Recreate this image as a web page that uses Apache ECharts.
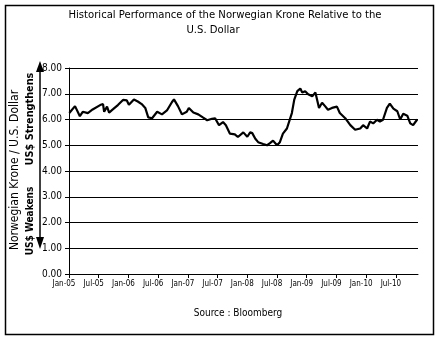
<!DOCTYPE html>
<html>
<head>
<meta charset="utf-8">
<script src="https://cdn.jsdelivr.net/npm/echarts@6/dist/echarts.min.js"></script>
<style>
  html, body { margin: 0; padding: 0; background: #fff; }
  #chart { width: 438px; height: 341px; }
</style>
</head>
<body>
<div id="chart"></div>
<script>
// NOK per USD, sampled roughly twice a month
const dates = [
  '2005-01-03','2005-02-07','2005-03-07','2005-03-25','2005-04-25','2005-05-25','2005-07-10','2005-07-28',
  '2005-08-04','2005-08-22','2005-09-04','2005-09-28','2005-10-28','2005-11-28','2005-12-22','2006-01-04',
  '2006-02-04','2006-02-26','2006-03-22','2006-04-13','2006-05-01','2006-05-25','2006-06-25','2006-07-25',
  '2006-08-25','2006-09-25','2006-10-07','2006-11-01','2006-11-25','2006-12-25','2007-01-07','2007-02-04',
  '2007-03-04','2007-04-04','2007-04-28','2007-05-28','2007-06-16','2007-07-10','2007-08-04','2007-08-22',
  '2007-09-16','2007-10-16','2007-11-04','2007-12-07','2007-12-19','2008-01-01','2008-01-19','2008-02-01',
  '2008-02-19','2008-03-07','2008-04-07','2008-05-01','2008-05-19','2008-06-07','2008-07-01','2008-07-19',
  '2008-08-07','2008-09-01','2008-09-13','2008-10-01','2008-10-16','2008-11-04','2008-11-22','2008-12-04',
  '2008-12-22','2009-01-10','2009-02-04','2009-02-22','2009-03-04','2009-03-16','2009-04-04','2009-04-22',
  '2009-05-10','2009-06-04','2009-07-04','2009-07-22','2009-08-25','2009-09-25','2009-10-25','2009-11-25',
  '2009-12-13','2010-01-07','2010-01-25','2010-02-13','2010-03-07','2010-03-25','2010-04-13','2010-05-07',
  '2010-05-25','2010-06-16','2010-07-10','2010-07-28','2010-08-16','2010-09-10','2010-09-28','2010-10-16',
  '2010-11-10'
];
const nokPerUsd = [
  6.25, 6.52, 6.13, 6.30, 6.25, 6.39, 6.56, 6.60,
  6.30, 6.50, 6.27, 6.40, 6.56, 6.76, 6.74, 6.57,
  6.78, 6.70, 6.60, 6.45, 6.08, 6.05, 6.30, 6.20,
  6.35, 6.68, 6.78, 6.52, 6.20, 6.30, 6.45, 6.27,
  6.20, 6.07, 5.97, 6.03, 6.05, 5.78, 5.90, 5.78,
  5.45, 5.42, 5.32, 5.50, 5.55, 5.33, 5.50, 5.47,
  5.25, 5.12, 5.05, 5.00, 5.08, 5.18, 5.00, 5.12,
  5.45, 5.65, 5.72, 6.25, 6.77, 7.10, 7.20, 7.05,
  7.10, 6.98, 6.90, 7.05, 7.00, 6.45, 6.65, 6.52,
  6.38, 6.45, 6.50, 6.25, 6.05, 5.78, 5.60, 5.65,
  5.78, 5.65, 5.92, 5.85, 5.99, 5.92, 5.99, 6.45,
  6.62, 6.42, 6.32, 6.00, 6.22, 6.15, 5.85, 5.78,
  6.00
];
const tickLabels = ['Jan-05','Jul-05','Jan-06','Jul-06','Jan-07','Jul-07',
  'Jan-08','Jul-08','Jan-09','Jul-09','Jan-10','Jul-10'];
const yTicks = [0, 1, 2, 3, 4, 5, 6, 7, 8];
const axisStart = '2005-01-01';
const axisEnd = '2010-11-15';

const FONT = '"Liberation Sans Narrow", "DejaVu Sans Condensed", "Liberation Sans", sans-serif';

// x position = months elapsed since the start of 2005 (fractional)
function monthsSinceStart(s) {
  const [y, m, d] = s.split('-').map(Number);
  const dim = new Date(Date.UTC(y, m, 0)).getUTCDate();
  return (y - 2005) * 12 + (m - 1) + (d - 1) / dim;
}

const chart = echarts.init(document.getElementById('chart'), null, { renderer: 'canvas' });

chart.setOption({
  animation: false,
  backgroundColor: '#fff',
  grid: { left: 69, right: 20, top: 68, bottom: 67, containLabel: false },
  xAxis: {
    type: 'value',
    min: monthsSinceStart(axisStart),
    max: monthsSinceStart(axisEnd),
    interval: 6,
    axisLine: { show: true, onZero: false, lineStyle: { color: '#000', width: 1 } },
    axisTick: { show: true, length: 4, inside: false, lineStyle: { color: '#000' } },
    axisLabel: {
      color: '#000',
      fontFamily: FONT,
      fontSize: 8,
      margin: 6,
      padding: [0, 10, 0, 0],
      showMaxLabel: false,
      formatter: v => {
        const i = Math.round(v / 6);
        return (Math.abs(v - i * 6) < 1e-6 && tickLabels[i]) ? tickLabels[i] : '';
      }
    },
    splitLine: { show: false }
  },
  yAxis: {
    type: 'value',
    min: yTicks[0],
    max: yTicks[yTicks.length - 1],
    interval: 1,
    axisLine: { show: true, lineStyle: { color: '#000', width: 1 } },
    axisTick: { show: true, length: 4, lineStyle: { color: '#000' } },
    axisLabel: {
      color: '#000',
      fontFamily: FONT,
      fontSize: 10,
      margin: 7,
      formatter: v => v.toFixed(2)
    },
    splitLine: { show: true, lineStyle: { color: '#000', width: 1 } }
  },
  series: [{
    type: 'line',
    data: dates.map((d, i) => [monthsSinceStart(d), nokPerUsd[i]]),
    showSymbol: false,
    lineStyle: { color: '#000', width: 2.2 },
    itemStyle: { color: '#000' }
  }],
  graphic: [
    // outer frame
    { type: 'rect', shape: { x: 5.5, y: 5.5, width: 428, height: 329 },
      style: { fill: null, stroke: '#000', lineWidth: 1.5 }, z: 10 },
    // title
    { type: 'text', x: 225, y: 15,
      style: { text: 'Historical Performance of the Norwegian Krone Relative to the', font: '11.2px ' + FONT,
        fill: '#000', textAlign: 'center', textVerticalAlign: 'middle' } },
    { type: 'text', x: 213, y: 30,
      style: { text: 'U.S. Dollar', font: '11.2px ' + FONT,
        fill: '#000', textAlign: 'center', textVerticalAlign: 'middle' } },
    // y axis title
    { type: 'text', x: 15, y: 170, rotation: Math.PI / 2,
      style: { text: 'Norwegian Krone / U.S. Dollar', font: '12px ' + FONT,
        fill: '#000', textAlign: 'center', textVerticalAlign: 'middle' } },
    // direction arrow
    { type: 'line', shape: { x1: 40, y1: 68, x2: 40, y2: 242 }, style: { stroke: '#000', lineWidth: 1.5 } },
    { type: 'polygon', shape: { points: [[40, 61], [36, 72], [44, 72]] }, style: { fill: '#000' } },
    { type: 'polygon', shape: { points: [[40, 249], [36, 237], [44, 237]] }, style: { fill: '#000' } },
    { type: 'text', x: 30, y: 119, rotation: Math.PI / 2,
      style: { text: 'US$ Strengthens', font: 'bold 10.8px ' + FONT,
        fill: '#000', textAlign: 'center', textVerticalAlign: 'middle' } },
    { type: 'text', x: 30, y: 221, rotation: Math.PI / 2,
      style: { text: 'US$ Weakens', font: 'bold 10px ' + FONT,
        fill: '#000', textAlign: 'center', textVerticalAlign: 'middle' } },
    // source note
    { type: 'text', x: 238, y: 313,
      style: { text: 'Source : Bloomberg', font: '10px ' + FONT,
        fill: '#000', textAlign: 'center', textVerticalAlign: 'middle' } }
  ]
});
</script>
</body>
</html>
